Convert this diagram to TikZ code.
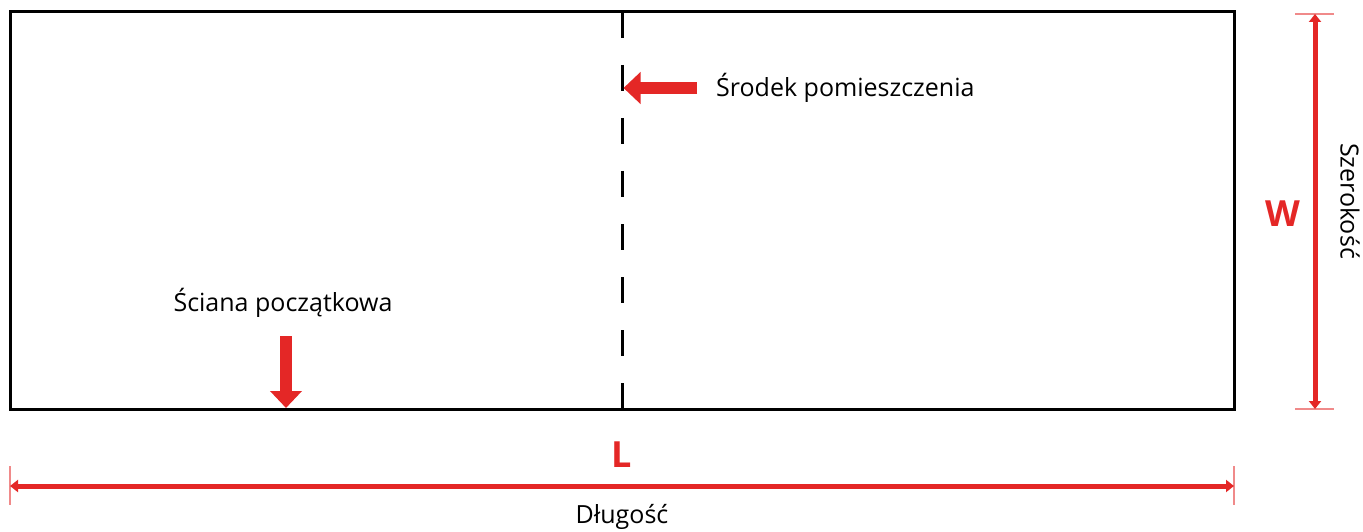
\documentclass[tikz,border=0pt]{standalone}
\usepackage{fontspec}
\setmainfont{Open Sans}
\usetikzlibrary{arrows.meta}
\definecolor{myred}{HTML}{E42726}
\definecolor{tickred}{HTML}{F08A8A}
\tikzset{
  wall/.style={line width=3pt, black},
  centerline/.style={line width=3pt, black, dash pattern=on 26pt off 27pt},
  bigarrow/.style={line width=11.5pt, myred, -{Triangle[width=31pt,length=17pt]}},
  dimline/.style={line width=5pt, myred, {Triangle[width=12pt,length=8pt]}-{Triangle[width=12pt,length=8pt]}},
  dimtick/.style={line width=1.6pt, tickred},
  lbl/.style={inner sep=0pt, font=\fontsize{25}{29}\selectfont},
  dimlbl/.style={inner sep=0pt, text=myred, font=\fontsize{36}{42}\selectfont\bfseries},
}
\begin{document}
\begin{tikzpicture}[x=1pt,y=-1pt]
\useasboundingbox (0,0) rectangle (1363,532);
% room
\coordinate (tl) at (10,12);
\coordinate (br) at (1234,409);
\draw[wall] (tl) rectangle (br);
\coordinate (ctop) at (622,12);
\coordinate (cbot) at (622,409);
\draw[centerline] (ctop) -- (cbot);
% centre label
\coordinate (cs) at (697,88);
\coordinate (ce) at (623.5,88);
\draw[bigarrow] (cs) -- (ce);
\node[lbl, anchor=west] (srodek) at (716,88) {Środek pomieszczenia};
% start wall
\node[lbl] (sciana) at (283,303) {Ściana początkowa};
\coordinate (ss) at (286,336);
\coordinate (se) at (286,408);
\draw[bigarrow] (ss) -- (se);
% width dimension
\coordinate (wt) at (1315,14);
\coordinate (wb) at (1315,409);
\draw[dimtick] (1295,14) -- (1334,14);
\draw[dimtick] (1295,409) -- (1334,409);
\draw[dimline] (wt) -- (wb);
\node[dimlbl] (W) at (1283,214) {W};
\node[lbl, rotate=-90] (szer) at (1350,201) {Szerokość};
% length dimension
\coordinate (ll) at (10,486);
\coordinate (lr) at (1234,486);
\draw[dimtick] (10,466) -- (10,505);
\draw[dimtick] (1234,466) -- (1234,505);
\draw[dimline] (ll) -- (lr);
\node[dimlbl] (L) at (622,455) {L};
\node[lbl] (dl) at (622,517) {Długość};
\end{tikzpicture}
\end{document}
